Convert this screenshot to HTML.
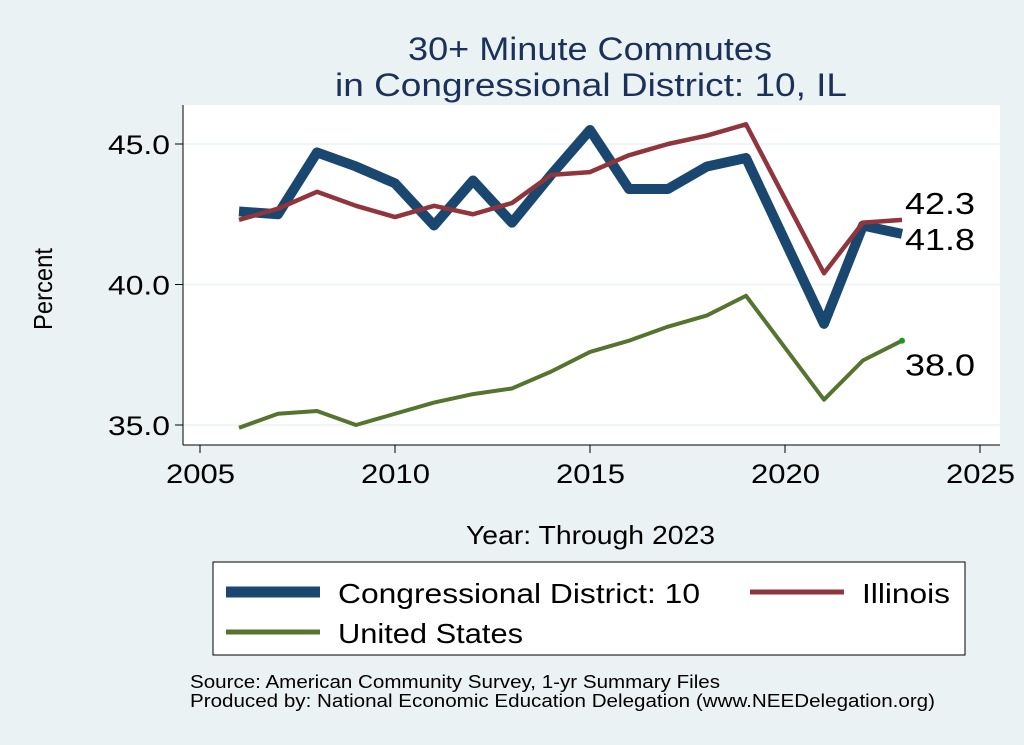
<!DOCTYPE html>
<html><head><meta charset="utf-8"><style>
body{margin:0;background:#eaf2f3;}
svg{display:block;font-family:"Liberation Sans",Arial,sans-serif;}
</style></head><body>
<svg id="chart" width="1024" height="745" viewBox="0 0 1024 745" xml:space="preserve">
<rect x="0" y="0" width="1024" height="745" fill="#eaf2f3"/>
<text x="408" y="60" font-size="32" textLength="364" lengthAdjust="spacingAndGlyphs" fill="#1c3159">30+ Minute Commutes</text>
<text x="335" y="96" font-size="32" textLength="512" lengthAdjust="spacingAndGlyphs" fill="#1c3159">in Congressional District:  10, IL</text>
<rect x="183" y="105" width="817" height="340" fill="#fff"/>
<g id="grid"></g><g id="axes"></g><g id="series"></g>
<text x="52" y="289" font-size="26" textLength="82" lengthAdjust="spacingAndGlyphs" transform="rotate(-90 52 289)" fill="#000" text-anchor="middle">Percent</text>
<text x="466" y="544" font-size="26" textLength="249" lengthAdjust="spacingAndGlyphs" fill="#000">Year: Through 2023</text>
<rect x="213" y="562" width="752" height="93" fill="#fff" stroke="#000" stroke-width="1"/>
<g><line x1="226" y1="592" x2="320" y2="592" stroke="#1a476f" stroke-width="11"/><text x="338" y="603" font-size="28" textLength="362" lengthAdjust="spacingAndGlyphs">Congressional District:  10</text></g>
<g><line x1="750" y1="592" x2="844" y2="592" stroke="#90353b" stroke-width="5"/><text x="862" y="603" font-size="28" textLength="88" lengthAdjust="spacingAndGlyphs">Illinois</text></g>
<g><line x1="226" y1="632" x2="320" y2="632" stroke="#55752f" stroke-width="5"/><text x="338" y="643" font-size="28" textLength="185" lengthAdjust="spacingAndGlyphs">United States</text></g>
<text x="190" y="688" font-size="18" textLength="530" lengthAdjust="spacingAndGlyphs">Source: American Community Survey, 1-yr Summary Files</text>
<text x="190" y="707" font-size="18" textLength="745" lengthAdjust="spacingAndGlyphs">Produced by: National Economic Education Delegation (www.NEEDelegation.org)</text>
</svg>
<script>
const years=[2006,2007,2008,2009,2010,2011,2012,2013,2014,2015,2016,2017,2018,2019,2021,2022,2023];
const districtValues=[42.6,42.5,44.7,44.2,43.6,42.1,43.7,42.2,43.9,45.5,43.4,43.4,44.2,44.5,38.6,42.1,41.8];
const illinoisValues=[42.3,42.7,43.3,42.8,42.4,42.8,42.5,42.9,43.9,44.0,44.6,45.0,45.3,45.7,40.4,42.2,42.3];
const usValues=[34.9,35.4,35.5,35.0,35.4,35.8,36.1,36.3,36.9,37.6,38.0,38.5,38.9,39.6,35.9,37.3,38.0];
const yTicks=[35,40,45];
const xTicks=[2005,2010,2015,2020,2025];
const NS="http://www.w3.org/2000/svg";
const xs=v=>200+(v-2005)*39;
const ys=v=>425-(v-35)*28.1;
function mk(tag,attrs,parent){const e=document.createElementNS(NS,tag);for(const k in attrs)e.setAttribute(k,attrs[k]);parent.appendChild(e);return e;}
const grid=document.getElementById('grid'),axes=document.getElementById('axes'),ser=document.getElementById('series');
mk('line',{x1:183,y1:105,x2:183,y2:445,stroke:'#000','stroke-width':1},axes);
mk('line',{x1:183,y1:445,x2:1000,y2:445,stroke:'#000','stroke-width':1},axes);
yTicks.forEach(t=>{
 const g=mk('line',{x1:183,y1:ys(t),x2:1000,y2:ys(t),stroke:'#eaf2f3','stroke-width':1.5},grid);
 
 
 mk('line',{x1:175,y1:ys(t),x2:183,y2:ys(t),stroke:'#000'},axes);
 const tx=mk('text',{x:108,y:ys(t)+10,'font-size':27,textLength:62,lengthAdjust:'spacingAndGlyphs'},axes);
 tx.textContent=t.toFixed(1);
 
 
});
xTicks.forEach(t=>{
 mk('line',{x1:xs(t),y1:445,x2:xs(t),y2:453,stroke:'#000'},axes);
 const tx=mk('text',{x:xs(t)-34,y:483,'font-size':27,textLength:69,lengthAdjust:'spacingAndGlyphs'},axes);
 tx.textContent=t;
 
 
});
function line(vals,color,w,name){
 const p=mk('polyline',{points:vals.map((v,i)=>xs(years[i])+','+ys(v)).join(' '),fill:'none',stroke:color,'stroke-width':w,'stroke-linejoin':'round'},ser);
 
 
}
line(usValues,'#55752f',4,'us-line');
line(districtValues,'#1a476f',10,'district-line');
line(illinoisValues,'#90353b',4.5,'illinois-line');
const last=years.length-1;
mk('circle',{cx:xs(years[last]),cy:ys(usValues[last]),r:3,fill:'#1a9a1a'},ser);
function lab(v,dy,name){const t=mk('text',{x:905,y:ys(v)+dy,'font-size':31,textLength:70,lengthAdjust:'spacingAndGlyphs'},ser);t.textContent=v.toFixed(1);}
lab(illinoisValues[last],-6,'illinois-end-label');
lab(districtValues[last],16,'district-end-label');
lab(usValues[last],35,'us-end-label');
</script>
</body></html>
